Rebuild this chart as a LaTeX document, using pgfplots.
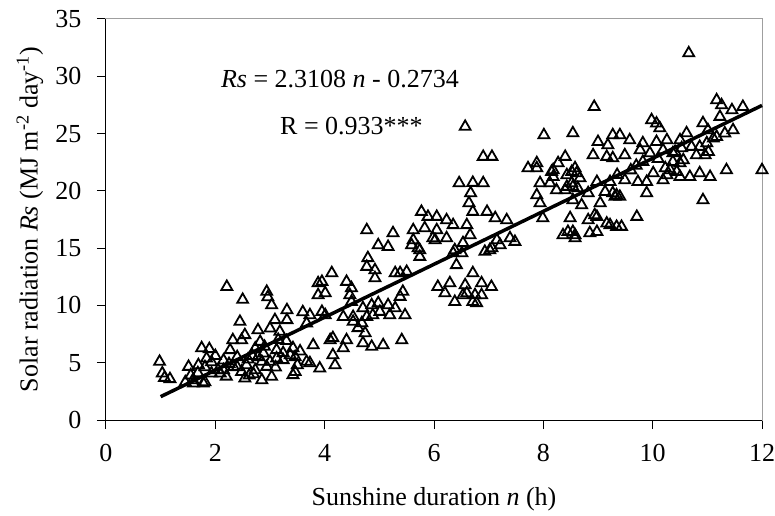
\documentclass[border=0pt]{standalone}
\usepackage{fontspec}
\setmainfont{Liberation Serif}
\usepackage{pgfplots}
\pgfplotsset{compat=1.18}

% measured sunshine duration (h) vs. solar radiation (MJ m-2 day-1)
\pgfplotstableread{
n Rs
0.98 5.09
1.03 4.08
1.07 3.69
1.17 3.58
1.45 3.30
1.51 4.65
1.55 3.90
1.60 3.20
1.59 3.49
1.68 4.10
1.69 4.80
1.75 6.28
1.78 3.20
1.81 4.62
1.84 5.38
1.89 6.20
1.93 5.06
1.93 4.07
1.81 3.30
2.05 4.36
2.09 4.07
2.15 4.36
2.15 5.20
2.20 3.80
2.21 11.63
2.27 6.11
2.32 6.98
2.33 4.65
2.40 4.62
2.40 5.50
2.45 8.58
2.48 6.98
2.48 4.21
2.50 10.50
2.54 7.42
2.54 3.64
2.57 4.80
2.62 3.90
2.68 5.60
2.73 6.25
2.73 4.36
2.78 7.85
2.78 5.50
2.82 6.83
2.85 5.09
2.85 3.49
2.88 5.82
2.94 11.20
2.94 4.65
2.96 10.73
3.00 8.00
3.00 5.09
3.03 10.03
3.03 3.78
3.09 8.73
3.12 6.11
3.12 5.38
3.18 7.71
3.24 5.85
3.24 5.24
3.31 9.60
3.31 8.73
3.37 5.67
3.42 6.28
3.42 3.93
3.46 5.50
3.46 4.21
3.60 9.42
3.67 8.44
3.67 5.09
3.73 9.16
3.73 4.97
3.79 6.54
3.88 11.95
3.88 10.91
3.91 4.51
3.95 12.07
3.95 9.45
2.25 4.90
2.60 5.30
2.90 6.40
3.10 4.60
3.30 6.90
3.55 6.00
3.50 4.80
2.00 5.60
2.70 4.00
3.15 7.00
4.01 11.08
4.01 9.16
4.10 6.98
4.13 12.83
4.15 7.16
4.15 5.67
4.19 4.80
4.34 9.01
4.34 6.28
4.40 12.07
4.40 6.98
4.46 10.91
4.49 11.52
4.49 10.32
4.52 9.01
4.52 8.58
4.61 8.03
4.68 8.46
4.70 9.77
4.70 6.72
4.74 7.59
4.77 16.58
4.77 13.38
4.77 9.01
4.79 14.14
4.86 10.03
4.86 6.40
4.88 9.16
4.92 13.09
4.92 12.39
4.98 15.27
4.98 10.21
5.01 9.45
5.07 6.54
5.16 15.12
5.16 10.03
5.19 9.16
5.25 16.32
5.29 12.83
5.29 9.77
5.38 12.83
5.38 10.76
5.41 6.98
5.43 11.20
5.47 9.16
5.50 12.94
5.59 15.27
5.62 16.58
5.62 15.71
5.71 15.01
5.74 14.83
5.74 14.25
5.77 18.18
5.83 16.75
5.89 17.74
5.98 15.88
6.02 15.71
6.05 17.74
6.05 16.58
6.07 11.63
6.20 11.08
6.23 17.45
6.23 15.88
6.29 11.95
6.35 17.02
6.35 14.57
6.38 14.83
6.38 10.32
6.41 13.53
6.46 20.68
6.51 14.57
6.53 15.45
6.53 10.91
6.57 25.60
6.57 11.78
6.60 17.02
6.60 11.08
6.64 18.94
6.66 16.14
6.67 19.81
6.71 20.71
6.71 18.18
6.71 12.83
6.71 10.32
6.75 10.91
6.78 10.21
6.87 11.95
6.87 10.91
6.90 22.98
6.90 20.68
6.93 14.69
6.97 18.18
7.02 14.83
7.05 11.63
7.06 22.98
7.06 15.01
7.12 17.63
7.15 15.71
7.21 15.27
7.33 17.45
7.39 15.88
7.48 15.56
7.72 21.99
7.88 22.43
7.88 21.99
7.88 19.63
7.94 20.68
7.94 18.94
7.99 17.63
8.01 24.87
8.12 20.68
8.15 21.67
8.18 21.82
8.18 21.23
8.24 20.07
8.27 22.43
8.36 16.14
8.40 20.07
8.40 22.98
8.43 21.38
8.43 20.36
8.45 16.43
8.49 17.63
8.52 21.67
8.52 20.68
8.54 25.04
8.54 20.36
8.54 19.20
8.54 16.43
8.58 21.99
8.58 16.14
8.58 15.88
8.61 21.55
8.63 20.24
8.67 21.12
8.70 18.76
8.82 19.81
8.82 17.45
8.85 16.32
8.91 23.12
8.93 27.34
8.94 17.89
8.98 20.79
8.98 17.74
8.98 16.43
9.00 24.28
9.04 18.94
9.13 19.92
9.16 22.98
9.16 17.16
9.18 24.00
9.22 20.79
9.22 17.02
9.27 24.87
9.27 22.86
9.27 19.81
9.31 19.49
9.34 19.63
9.34 16.87
9.40 24.87
9.40 19.49
9.43 16.87
9.49 23.12
9.49 20.94
9.58 24.43
9.71 17.74
9.73 20.79
9.77 23.56
9.82 24.17
9.82 22.54
9.89 20.79
9.89 19.81
9.95 23.30
9.98 26.18
9.60 21.80
9.35 21.40
10.10 22.80
9.70 22.20
10.01 21.55
10.07 24.28
10.07 25.89
10.13 25.48
10.19 23.56
10.19 20.94
10.23 21.99
10.26 24.43
10.26 21.38
10.32 21.82
10.37 23.30
10.37 22.54
10.41 23.41
10.44 21.67
10.50 24.43
10.50 22.43
10.50 21.23
10.53 23.73
10.56 22.69
10.62 25.04
10.66 32.02
10.68 21.23
10.71 23.85
10.80 23.12
10.86 23.85
10.86 21.55
10.92 25.92
10.92 19.20
10.96 23.12
10.99 24.17
11.01 25.31
11.02 23.41
11.05 21.23
11.11 24.58
11.17 27.92
11.17 24.72
11.23 26.47
11.26 27.49
11.32 25.02
11.35 21.82
11.45 27.05
11.47 25.31
11.65 27.34
12.00 21.82
}\rsdata

\begin{document}
\begin{tikzpicture}
\path[use as bounding box] (-106bp,-96bp) rectangle (669bp,420bp);
\begin{axis}[
    at={(0bp,0bp)}, anchor=south west,
    scale only axis,
    width=656bp, height=401bp,
    xmin=0, xmax=12, ymin=0, ymax=35,
    xtick={0,2,...,12},
    ytick={0,5,...,35},
    xtick pos=left, ytick pos=left,
    tick align=outside,
    major tick length=9bp,
    tick style={black, line width=1bp},
    axis line style={draw=gray!75, line width=1bp},
    /pgf/number format/assume math mode=true,
    tick label style={font=\fontsize{26bp}{30bp}\selectfont},
    xticklabel style={yshift=-12bp},
    yticklabel style={xshift=-12bp},
    label style={font=\fontsize{26bp}{30bp}\selectfont},
    xlabel={Sunshine duration \textit{n} (h)},
    xlabel style={at={(axis description cs:0.5,-0.198)}, anchor=center},
    ylabel={Solar radiation \textit{Rs} (MJ m\textsuperscript{-2} day\textsuperscript{-1})},
    ylabel style={at={(axis description cs:-0.116,0.5)}, anchor=center},
    clip=false,
]
\addplot[only marks, mark=triangle, mark size=6.3bp,
    mark options={draw=black, fill=none, line width=1.8bp}] table[x=n, y=Rs] {\rsdata};
\addplot[black, line width=3.5bp] coordinates {(1,2.0374) (12,27.4562)};
\draw[black, line width=1bp] (rel axis cs:0,1) -- (rel axis cs:0,0) -- (rel axis cs:1,0);
\node[font=\fontsize{26bp}{30bp}\selectfont] at (axis cs:4.28,29.8)
    {\textit{Rs} = 2.3108 \textit{n} - 0.2734};
\node[font=\fontsize{26bp}{30bp}\selectfont] at (axis cs:4.49,25.7)
    {R = 0.933***};
\end{axis}
\end{tikzpicture}
\end{document}
